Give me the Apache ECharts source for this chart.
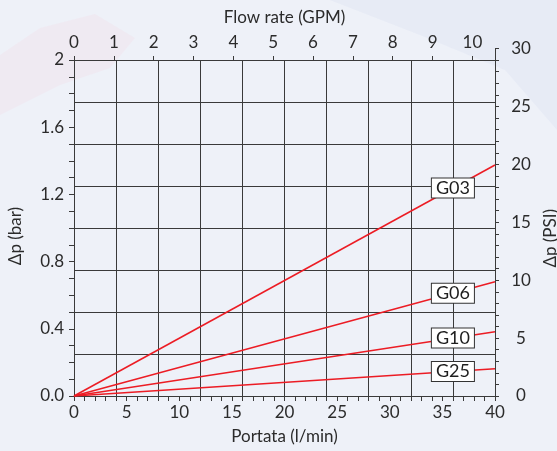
<!DOCTYPE html>
<html>
<head>
<meta charset="utf-8">
<script src="https://cdn.jsdelivr.net/npm/echarts@6/dist/echarts.min.js"></script>
<style>
html,body{margin:0;padding:0;background:#eef1f8;}
#chart{width:557px;height:451px;}
</style>
</head>
<body>
<div id="chart"></div>
<script>
// ---- data ----
const flowLmin = [0, 40];              // Portata (l/min)
const g03 = [0, 1.375];                // Δp (bar)
const g06 = [0, 0.68];
const g10 = [0, 0.383];
const g25 = [0, 0.162];
const seriesNames = ['G03', 'G06', 'G10', 'G25'];
const labelFlow = 36;                  // l/min where the tag boxes sit
const bottomTicks = [0, 5, 10, 15, 20, 25, 30, 35, 40];
const topTicks = [0, 1, 2, 3, 4, 5, 6, 7, 8, 9, 10];
const leftTicks = ['0.0', '0.4', '0.8', '1.2', '1.6', '2'];
const rightTicks = [0, 5, 10, 15, 20, 25, 30];

const LPM_PER_GPM = 3.78541;
const PSI_PER_BAR = 14.5038;

// ---- layout ----
const L = 74, R = 557 - 495, T = 60, B = 451 - 396;
const plotH = 451 - T - B;
const barMax = 2;
const pxPerBar = plotH / barMax;
const psiMax = 30;
const topPsi = T - (psiMax / PSI_PER_BAR - barMax) * pxPerBar;

const FONT = 'Lato, "Noto Sans", sans-serif';
const INK = '#2b2b2b';
const RED = '#ec1c24';
const FS = 17;

const all = [g03, g06, g10, g25];
const series = all.map((vals, i) => {
  const endVal = vals[vals.length - 1];
  return {
    name: seriesNames[i],
    type: 'line',
    xAxisIndex: 0,
    yAxisIndex: 0,
    data: flowLmin.map((x, k) => [x, vals[k]]),
    symbol: 'none',
    lineStyle: { color: RED, width: 1.5 },
    z: 5,
    silent: true,
    markPoint: {
      symbol: 'rect',
      symbolSize: 1,
      itemStyle: { color: 'rgba(0,0,0,0)' },
      data: [{
        coord: [labelFlow, endVal * labelFlow / flowLmin[flowLmin.length - 1]],
        label: {
          show: true,
          position: 'inside',
          formatter: seriesNames[i],
          backgroundColor: '#ffffff',
          borderColor: '#333',
          borderWidth: 1,
          padding: [1, 4, 0, 4],
          color: '#1e1e1e',
          fontFamily: FONT,
          fontSize: 18,
          lineHeight: 18
        }
      }],
      z: 10
    }
  };
});

const axisTxt = { color: INK, fontFamily: FONT, fontSize: FS };
const lineCol = '#3a3a3a';

const option = {
  backgroundColor: '#eef1f8',
  animation: false,
  graphic: [
    { type: 'polygon', z: -10, shape: { points: [[0, 55], [40, 28], [95, 14], [135, 38], [110, 68], [60, 85], [0, 115]] },
      style: { fill: 'rgba(245,208,225,0.22)' } },
    { type: 'polygon', z: -10, shape: { points: [[330, 0], [557, 0], [557, 130], [505, 70], [420, 35]] },
      style: { fill: 'rgba(218,223,240,0.35)' } }
  ],
  grid: [
    { left: L, right: R, top: T, bottom: B, containLabel: false, outerBoundsMode: 'none' },
    { left: L, right: R, top: topPsi, bottom: B, containLabel: false, outerBoundsMode: 'none' }
  ],
  xAxis: [
    { // bottom: l/min
      type: 'value', gridIndex: 0, position: 'bottom', min: bottomTicks[0], max: bottomTicks[bottomTicks.length - 1], interval: 5,
      name: 'Portata (l/min)', nameLocation: 'middle', nameGap: 32,
      nameTextStyle: axisTxt,
      axisLine: { show: true, onZero: false, lineStyle: { color: lineCol, width: 1 } },
      axisTick: { show: true, inside: false, length: 5, lineStyle: { color: lineCol } },
      minorTick: { show: true, splitNumber: 5, length: 5, lineStyle: { color: lineCol } },
      axisLabel: Object.assign({ margin: 8 }, axisTxt),
      splitLine: { show: false }
    },
    { // top: GPM
      type: 'value', gridIndex: 0, position: 'top', min: 0, max: flowLmin[flowLmin.length - 1] / LPM_PER_GPM, interval: 1,
      name: 'Flow rate (GPM)', nameLocation: 'middle', nameGap: 34,
      nameTextStyle: axisTxt,
      axisLine: { show: true, onZero: false, lineStyle: { color: lineCol, width: 1 } },
      axisTick: { show: true, inside: false, length: 4, lineStyle: { color: lineCol } },
      axisLabel: Object.assign({ margin: 9, showMaxLabel: false,
        formatter: v => (topTicks.indexOf(Math.round(v * 1000) / 1000) >= 0 ? String(v) : '') }, axisTxt),
      splitLine: { show: false }
    },
    { // grid lines (vertical)
      type: 'value', gridIndex: 0, min: 0, max: 40, interval: 4,
      axisLine: { show: false }, axisTick: { show: false }, axisLabel: { show: false },
      splitLine: { show: true, lineStyle: { color: lineCol, width: 1 } }
    },
    { type: 'value', gridIndex: 1, min: 0, max: 40, show: false }
  ],
  yAxis: [
    { // left: bar
      type: 'value', gridIndex: 0, position: 'left', min: 0, max: barMax, interval: 0.4,
      name: 'Δp (bar)', nameLocation: 'middle', nameGap: 50, nameRotate: 90,
      nameTextStyle: Object.assign({}, axisTxt, { padding: [0, 16, 0, 0] }),
      axisLine: { show: true, onZero: false, lineStyle: { color: lineCol, width: 1 } },
      axisTick: { show: true, inside: false, length: 5, lineStyle: { color: lineCol } },
      minorTick: { show: true, splitNumber: 4, length: 5, lineStyle: { color: lineCol } },
      axisLabel: Object.assign({ margin: 10,
        formatter: v => leftTicks[Math.round(v / 0.4)] }, axisTxt),
      splitLine: { show: false }
    },
    { // grid lines (horizontal)
      type: 'value', gridIndex: 0, position: 'left', min: 0, max: barMax, interval: 0.25,
      axisLine: { show: false }, axisTick: { show: false }, axisLabel: { show: false },
      splitLine: { show: true, lineStyle: { color: lineCol, width: 1 } }
    },
    { // right: PSI
      type: 'value', gridIndex: 1, position: 'right', min: rightTicks[0], max: rightTicks[rightTicks.length - 1], interval: 5,
      name: 'Δp (PSI)', nameLocation: 'middle', nameGap: 41, nameRotate: 90,
      nameTextStyle: Object.assign({}, axisTxt, { padding: [0, 32, 0, 0] }),
      axisLine: { show: true, onZero: false, lineStyle: { color: lineCol, width: 1 } },
      axisTick: { show: true, inside: false, length: 4, lineStyle: { color: lineCol } },
      minorTick: { show: true, splitNumber: 5, length: 4, lineStyle: { color: lineCol } },
      axisLabel: Object.assign({ margin: 26, align: 'center' }, axisTxt),
      splitLine: { show: false }
    }
  ],
  series: series
};

const chart = echarts.init(document.getElementById('chart'), null, { renderer: 'canvas' });
chart.setOption(option);
</script>
</body>
</html>
